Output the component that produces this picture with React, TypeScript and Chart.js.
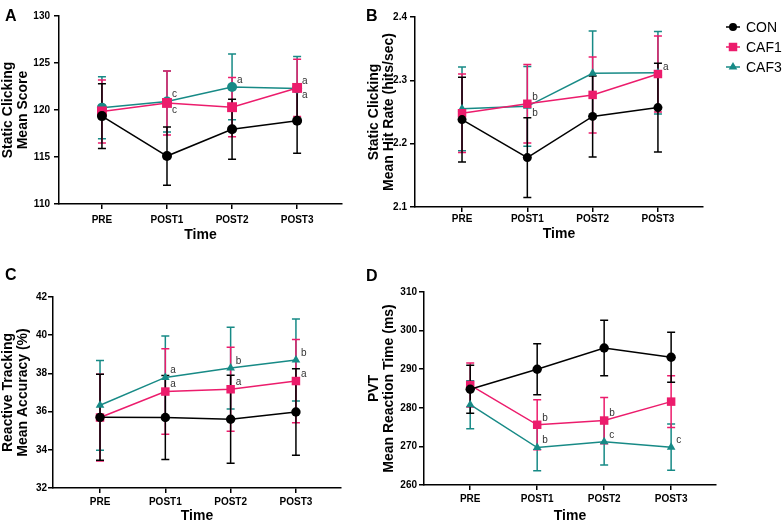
import React, { useEffect, useRef } from "react";
import { Chart, registerables } from "chart.js";

Chart.register(...registerables);

const timeLabels = ["PRE", "POST1", "POST2", "POST3"];
const seriesNames = ["CON", "CAF1", "CAF3"];
const seriesColors = ["#000000", "#EC1C6C", "#178A86"];

// Panel A: Static Clicking Mean Score
const scoreCON = [119.35, 115.1, 117.95, 118.85];
const scoreCAF1 = [119.85, 120.75, 120.3, 122.35];
const scoreCAF3 = [120.25, 120.9, 122.45, 122.3];
const scoreErrCON = [3.45, 3.1, 3.2, 3.45];
const scoreErrCAF1 = [3.35, 3.4, 3.15, 3.05];
const scoreErrCAF3 = [3.3, 3.25, 3.5, 3.4];
const scoreTicks = [110, 115, 120, 125, 130];

// Panel B: Static Clicking Mean Hit Rate
const hitCON = [2.238, 2.178, 2.243, 2.257];
const hitCAF1 = [2.248, 2.263, 2.277, 2.31];
const hitCAF3 = [2.255, 2.259, 2.311, 2.312];
const hitErrCON = [0.067, 0.063, 0.064, 0.07];
const hitErrCAF1 = [0.062, 0.062, 0.06, 0.06];
const hitErrCAF3 = [0.066, 0.063, 0.067, 0.065];
const hitTicks = [2.1, 2.2, 2.3, 2.4];

// Panel C: Reactive Tracking Mean Accuracy
const accCON = [35.7, 35.69, 35.6, 35.98];
const accCAF1 = [35.69, 37.05, 37.17, 37.6];
const accCAF3 = [36.33, 37.79, 38.28, 38.7];
const accErrCON = [2.25, 2.2, 2.3, 2.26];
const accErrCAF1 = [2.27, 2.24, 2.2, 2.18];
const accErrCAF3 = [2.35, 2.17, 2.14, 2.15];
const accTicks = [32, 34, 36, 38, 40, 42];

// Panel D: PVT Mean Reaction Time
const pvtCON = [284.8, 290.0, 295.5, 293.1];
const pvtCAF1 = [285.9, 275.6, 276.7, 281.6];
const pvtCAF3 = [280.8, 269.7, 271.2, 269.8];
const pvtErrCON = [6.2, 6.6, 7.2, 6.5];
const pvtErrCAF1 = [5.7, 6.5, 6.0, 6.7];
const pvtErrCAF3 = [6.2, 6.0, 6.0, 6.0];
const pvtTicks = [260, 270, 280, 290, 300, 310];

// significance letters: series index, time index, letter, placement
const scoreMarks = [
  { ds: 2, i: 1, t: "c", pos: "up" },
  { ds: 1, i: 1, t: "c", pos: "down" },
  { ds: 2, i: 2, t: "a", pos: "up" },
  { ds: 2, i: 3, t: "a", pos: "up" },
  { ds: 1, i: 3, t: "a", pos: "down" },
];
const hitMarks = [
  { ds: 1, i: 1, t: "b", pos: "up" },
  { ds: 2, i: 1, t: "b", pos: "down" },
  { ds: 1, i: 3, t: "a", pos: "up" },
];
const accMarks = [
  { ds: 2, i: 1, t: "a", pos: "up" },
  { ds: 1, i: 1, t: "a", pos: "up" },
  { ds: 2, i: 2, t: "b", pos: "up" },
  { ds: 1, i: 2, t: "a", pos: "up" },
  { ds: 2, i: 3, t: "b", pos: "up" },
  { ds: 1, i: 3, t: "a", pos: "up" },
];
const pvtMarks = [
  { ds: 1, i: 1, t: "b", pos: "up" },
  { ds: 2, i: 1, t: "b", pos: "up" },
  { ds: 1, i: 2, t: "b", pos: "up" },
  { ds: 2, i: 2, t: "c", pos: "up" },
  { ds: 2, i: 3, t: "c", pos: "up" },
];

const FONT = "'Liberation Sans', Arial, Helvetica, sans-serif";

type PanelCfg = {
  canvas: { x: number; y: number; w: number; h: number };
  area: { left: number; top: number; right: number; bottom: number };
  values: number[][];
  errors: number[][];
  marks: { ds: number; i: number; t: string; pos: string }[];
  yTicks: number[];
  yTitle: string[];
  yTitlePad: number;
  xTitlePad: number;
  xTickPad: number;
  yTickPad: number;
  xMin: number;
  xMax: number;
  styles: string[];
  radii: number[];
  legend?: boolean;
};

function Panel({ cfg }: { cfg: PanelCfg }) {
  const ref = useRef<HTMLCanvasElement | null>(null);
  useEffect(() => {
    const c = cfg.canvas;
    const a = cfg.area;
    const yW = a.left - c.x;
    const padTop = a.top - c.y;
    const padRight = c.x + c.w - a.right;
    const xH = c.y + c.h - a.bottom;

    const datasets = cfg.values.map((vals, d) => ({
      label: seriesNames[d],
      data: vals.map((v, i) => ({ x: i, y: v })),
      borderColor: seriesColors[d],
      backgroundColor: seriesColors[d],
      borderWidth: 1.5,
      pointStyle: cfg.styles[d],
      pointRadius: cfg.radii[d],
      pointBorderWidth: 0,
      tension: 0,
      fill: false,
    }));

    const plugin = {
      id: "errbars",
      beforeDatasetsDraw(chart: any) {
        const ctx = chart.ctx;
        const ys = chart.scales.y;
        ctx.save();
        for (let d = cfg.values.length - 1; d >= 0; d--) {
          const meta = chart.getDatasetMeta(d);
          ctx.strokeStyle = seriesColors[d];
          ctx.lineWidth = 1.5;
          cfg.values[d].forEach((v, i) => {
            const x = meta.data[i].x;
            const e = cfg.errors[d][i];
            const yt = ys.getPixelForValue(v + e);
            const yb = ys.getPixelForValue(v - e);
            ctx.beginPath();
            ctx.moveTo(x, yt);
            ctx.lineTo(x, yb);
            ctx.moveTo(x - 4, yt);
            ctx.lineTo(x + 4, yt);
            ctx.moveTo(x - 4, yb);
            ctx.lineTo(x + 4, yb);
            ctx.stroke();
          });
        }
        ctx.restore();
      },
      afterDatasetsDraw(chart: any) {
        const ctx = chart.ctx;
        ctx.save();
        ctx.fillStyle = "#333333";
        ctx.font = `10px ${FONT}`;
        ctx.textAlign = "left";
        ctx.textBaseline = "middle";
        cfg.marks.forEach((m) => {
          const p = chart.getDatasetMeta(m.ds).data[m.i];
          const dy = m.pos === "up" ? -7 : 7;
          ctx.fillText(m.t, p.x + 5, p.y + dy);
        });
        if (cfg.legend) {
          const items = [
            { y: 27, s: "circle", r: 4 },
            { y: 47, s: "rect", r: 6 },
            { y: 67, s: "triangle", r: 5 },
          ];
          items.forEach((it, d) => {
            const mx = 373;
            ctx.strokeStyle = seriesColors[d];
            ctx.fillStyle = seriesColors[d];
            ctx.lineWidth = 1.5;
            ctx.beginPath();
            ctx.moveTo(mx - 7, it.y);
            ctx.lineTo(mx + 7, it.y);
            ctx.stroke();
            (Chart as any).helpers
              ? null
              : null;
            drawMarker(ctx, it.s, mx, it.y, it.r);
            ctx.fillStyle = "#000";
            ctx.font = `14px ${FONT}`;
            ctx.fillText(seriesNames[d], 386, it.y + 1);
          });
        }
        ctx.restore();
      },
    };

    const chart = new Chart(ref.current as HTMLCanvasElement, {
      type: "line",
      data: { datasets } as any,
      plugins: [plugin],
      options: {
        animation: false,
        responsive: false,
        maintainAspectRatio: false,
        layout: { padding: { left: 0, top: padTop, right: padRight, bottom: 0 } },
        plugins: { legend: { display: false }, tooltip: { enabled: false } },
        scales: {
          x: {
            type: "linear",
            min: cfg.xMin,
            max: cfg.xMax,
            afterBuildTicks: (s: any) => {
              s.ticks = timeLabels.map((_, i) => ({ value: i }));
            },
            afterFit: (s: any) => {
              s.height = xH;
            },
            ticks: {
              callback: (v: any) => timeLabels[v] ?? "",
              color: "#000",
              font: { family: FONT, size: 10, weight: "bold" },
              padding: cfg.xTickPad,
              maxRotation: 0,
              autoSkip: false,
            },
            grid: { drawOnChartArea: false, drawTicks: true, tickLength: 5, color: "#000", lineWidth: 1.5 },
            border: { color: "#000", width: 1.5 },
            title: {
              display: true,
              text: "Time",
              color: "#000",
              font: { family: FONT, size: 14, weight: "bold" },
              padding: { top: 0, bottom: cfg.xTitlePad },
            },
          },
          y: {
            min: cfg.yTicks[0],
            max: cfg.yTicks[cfg.yTicks.length - 1],
            afterBuildTicks: (s: any) => {
              s.ticks = cfg.yTicks.map((v) => ({ value: v }));
            },
            afterFit: (s: any) => {
              s.width = yW;
            },
            ticks: {
              color: "#000",
              font: { family: FONT, size: 10, weight: "bold" },
              padding: cfg.yTickPad,
              callback: (v: any) => String(v),
            },
            grid: { drawOnChartArea: false, drawTicks: true, tickLength: 5, color: "#000", lineWidth: 1.5 },
            border: { color: "#000", width: 1.5 },
            title: {
              display: true,
              text: cfg.yTitle,
              color: "#000",
              font: { family: FONT, size: 14, weight: "bold", lineHeight: 1.1 },
              padding: { top: cfg.yTitlePad, bottom: 0 },
            },
          },
        },
      } as any,
    });
    return () => chart.destroy();
  }, [cfg]);
  return (
    <canvas
      ref={ref}
      width={cfg.canvas.w}
      height={cfg.canvas.h}
      style={{ position: "absolute", left: cfg.canvas.x, top: cfg.canvas.y, width: cfg.canvas.w, height: cfg.canvas.h }}
    />
  );
}

function drawMarker(ctx: CanvasRenderingContext2D, style: string, x: number, y: number, r: number) {
  ctx.beginPath();
  if (style === "circle") {
    ctx.arc(x, y, r, 0, Math.PI * 2);
  } else if (style === "rect") {
    const s = r * Math.SQRT1_2;
    ctx.rect(x - s, y - s, 2 * s, 2 * s);
  } else {
    ctx.moveTo(x, y - r);
    ctx.lineTo(x + r * 0.866, y + r * 0.5);
    ctx.lineTo(x - r * 0.866, y + r * 0.5);
    ctx.closePath();
  }
  ctx.fill();
}

const panelA: PanelCfg = {
  canvas: { x: 0, y: 0, w: 360, h: 250 },
  area: { left: 59, top: 16, right: 342, bottom: 204 },
  values: [scoreCON, scoreCAF1, scoreCAF3],
  errors: [scoreErrCON, scoreErrCAF1, scoreErrCAF3],
  marks: scoreMarks,
  yTicks: scoreTicks,
  yTitle: ["Static Clicking", "Mean Score"],
  yTitlePad: 0,
  xTitlePad: 6,
  xTickPad: 5,
  yTickPad: 4,
  xMin: -0.66,
  xMax: 3.69,
  styles: ["circle", "rect", "circle"],
  radii: [5, 7, 5],
};

const panelB: PanelCfg = {
  canvas: { x: 360, y: 0, w: 422, h: 250 },
  area: { left: 415, top: 17, right: 703, bottom: 207 },
  values: [hitCON, hitCAF1, hitCAF3],
  errors: [hitErrCON, hitErrCAF1, hitErrCAF3],
  marks: hitMarks,
  yTicks: hitTicks,
  yTitle: ["Static Clicking", "Mean Hit Rate (hits/sec)"],
  yTitlePad: 6,
  xTitlePad: 7,
  xTickPad: 1,
  yTickPad: 3,
  xMin: -0.72,
  xMax: 3.69,
  styles: ["circle", "rect", "triangle"],
  radii: [4.5, 6, 5],
  legend: true,
};

const panelC: PanelCfg = {
  canvas: { x: 0, y: 250, w: 360, h: 276 },
  area: { left: 53, top: 297, right: 341, bottom: 488 },
  values: [accCON, accCAF1, accCAF3],
  errors: [accErrCON, accErrCAF1, accErrCAF3],
  marks: accMarks,
  yTicks: accTicks,
  yTitle: ["Reactive Tracking", "Mean Accuracy (%)"],
  yTitlePad: 0,
  xTitlePad: 1.5,
  xTickPad: 3,
  yTickPad: 1,
  xMin: -0.72,
  xMax: 3.69,
  styles: ["circle", "rect", "triangle"],
  radii: [4.7, 6, 5],
};

const panelD: PanelCfg = {
  canvas: { x: 360, y: 250, w: 422, h: 276 },
  area: { left: 424, top: 292, right: 716, bottom: 485 },
  values: [pvtCON, pvtCAF1, pvtCAF3],
  errors: [pvtErrCON, pvtErrCAF1, pvtErrCAF3],
  marks: pvtMarks,
  yTicks: pvtTicks,
  yTitle: ["PVT", "Mean Reaction Time (ms)"],
  yTitlePad: 6,
  xTitlePad: 1.5,
  xTickPad: 3,
  yTickPad: 2,
  xMin: -0.69,
  xMax: 3.67,
  styles: ["circle", "rect", "triangle"],
  radii: [4.7, 6, 5],
};

const letterStyle: React.CSSProperties = {
  position: "absolute",
  fontFamily: FONT,
  fontWeight: "bold",
  fontSize: 16,
  lineHeight: "16px",
  color: "#000",
};

export default function App() {
  return (
    <div style={{ position: "absolute", left: 0, top: 0, width: 782, height: 526, background: "#fff", overflow: "hidden" }}>
      <Panel cfg={panelA} />
      <Panel cfg={panelB} />
      <Panel cfg={panelC} />
      <Panel cfg={panelD} />
      <div style={{ ...letterStyle, left: 5, top: 8 }}>A</div>
      <div style={{ ...letterStyle, left: 366, top: 8 }}>B</div>
      <div style={{ ...letterStyle, left: 5, top: 267 }}>C</div>
      <div style={{ ...letterStyle, left: 366, top: 268 }}>D</div>
    </div>
  );
}
